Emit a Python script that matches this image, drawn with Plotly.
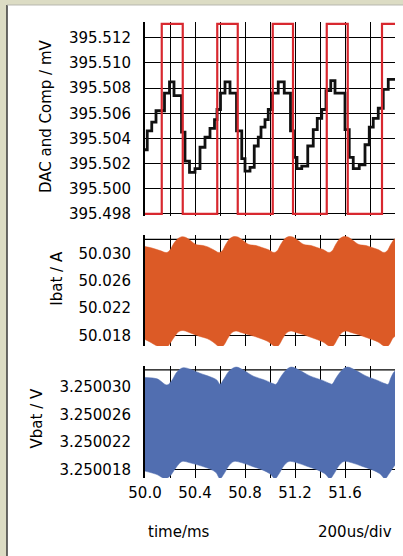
import plotly.graph_objects as go

# ---------------- data ----------------
# Top panel: DAC (red square wave) and Comp (black staircase), mV
dac_t = [50.000, 50.134, 50.302, 50.578, 50.742, 51.022, 51.184, 51.454, 51.622, 51.896, 52.000]
dac_v = [395.498, 395.5131, 395.498, 395.5131, 395.498, 395.5131, 395.498, 395.5131, 395.498, 395.5131, 395.5131]

comp_t = [50.000, 50.018, 50.054, 50.088, 50.156, 50.196, 50.232, 50.292, 50.320, 50.356,
          50.400, 50.440, 50.480, 50.520, 50.556, 50.576, 50.604, 50.640, 50.680, 50.732,
          50.774, 50.800, 50.840, 50.874, 50.906, 50.928, 50.960, 50.986, 51.018, 51.066,
          51.114, 51.164, 51.188, 51.216, 51.254, 51.302, 51.346, 51.378, 51.414, 51.448,
          51.486, 51.520, 51.600, 51.634, 51.666, 51.714, 51.760, 51.794, 51.826, 51.866,
          51.906, 51.946, 52.000]
comp_v = [395.5031, 395.5046, 395.5053, 395.5062, 395.5076, 395.5085, 395.5074, 395.5045, 395.5022, 395.5013,
          395.5016, 395.5033, 395.5041, 395.5048, 395.5055, 395.5063, 395.5076, 395.5085, 395.5076, 395.5046,
          395.5024, 395.5014, 395.5017, 395.5034, 395.5041, 395.5049, 395.5055, 395.5063, 395.5076, 395.5085,
          395.5076, 395.5046, 395.5025, 395.5016, 395.5018, 395.5034, 395.5047, 395.5056, 395.5063, 395.5078,
          395.5086, 395.5076, 395.5047, 395.5025, 395.5016, 395.5019, 395.5035, 395.5049, 395.5056, 395.5064,
          395.5079, 395.5087, 395.5087]

# Middle panel: Ibat ripple band envelope, A
ibat_up_t = [50.000, 50.056, 50.120, 50.172, 50.200, 50.232, 50.264, 50.296, 50.328, 50.368,
             50.408, 50.464, 50.504, 50.544, 50.592, 50.616, 50.648, 50.680, 50.712, 50.744,
             50.784, 50.832, 50.888, 50.936, 50.984, 51.032, 51.056, 51.088, 51.120, 51.152,
             51.184, 51.224, 51.272, 51.328, 51.376, 51.424, 51.472, 51.496, 51.528, 51.560,
             51.592, 51.624, 51.664, 51.712, 51.768, 51.816, 51.864, 51.912, 51.936, 51.968, 52.000]
ibat_up_v = [50.03104, 50.03082, 50.03045, 50.03016, 50.03053, 50.03155, 50.03221, 50.03248, 50.03236, 50.03185,
             50.03133, 50.03119, 50.03097, 50.03060, 50.03016, 50.03038, 50.03141, 50.03221, 50.03251, 50.03243,
             50.03192, 50.03133, 50.03119, 50.03089, 50.03060, 50.03016, 50.03038, 50.03141, 50.03221, 50.03251,
             50.03243, 50.03192, 50.03133, 50.03119, 50.03089, 50.03060, 50.03016, 50.03038, 50.03141, 50.03221,
             50.03251, 50.03243, 50.03192, 50.03133, 50.03119, 50.03089, 50.03060, 50.03016, 50.03038, 50.03141, 50.03214]
ibat_lo_t = [50.000, 50.040, 50.088, 50.136, 50.176, 50.208, 50.240, 50.272, 50.304, 50.344,
             50.384, 50.440, 50.496, 50.544, 50.584, 50.608, 50.632, 50.664, 50.696, 50.728,
             50.768, 50.824, 50.880, 50.936, 50.984, 51.024, 51.048, 51.072, 51.104, 51.136,
             51.168, 51.208, 51.264, 51.320, 51.376, 51.424, 51.464, 51.488, 51.512, 51.544,
             51.576, 51.608, 51.648, 51.704, 51.760, 51.816, 51.864, 51.904, 51.928, 51.952, 51.984, 52.000]
ibat_lo_v = [50.01741, 50.01705, 50.01653, 50.01624, 50.01632, 50.01705, 50.01793, 50.01859, 50.01873, 50.01851,
             50.01822, 50.01785, 50.01756, 50.01705, 50.01646, 50.01624, 50.01661, 50.01763, 50.01844, 50.01866,
             50.01844, 50.01815, 50.01785, 50.01749, 50.01712, 50.01653, 50.01624, 50.01661, 50.01763, 50.01844,
             50.01866, 50.01844, 50.01815, 50.01778, 50.01741, 50.01705, 50.01653, 50.01624, 50.01661, 50.01763,
             50.01844, 50.01866, 50.01844, 50.01815, 50.01778, 50.01741, 50.01705, 50.01653, 50.01624, 50.01661,
             50.01763, 50.01793]

# Bottom panel: Vbat ripple band envelope, V
vbat_up_t = [50.000, 50.096, 50.176, 50.216, 50.256, 50.304, 50.360, 50.440, 50.520, 50.576,
             50.600, 50.632, 50.672, 50.728, 50.792, 50.864, 50.960, 51.024, 51.048, 51.080,
             51.120, 51.168, 51.240, 51.320, 51.416, 51.480, 51.496, 51.528, 51.568, 51.616,
             51.688, 51.768, 51.856, 51.920, 51.944, 51.968, 52.000]
vbat_up_v = [3.2500314, 3.2500312, 3.2500303, 3.2500310, 3.2500322, 3.2500328, 3.2500326, 3.2500320, 3.2500315, 3.2500310,
             3.2500304, 3.2500312, 3.2500323, 3.2500329, 3.2500324, 3.2500316, 3.2500310, 3.2500305, 3.2500304, 3.2500313,
             3.2500323, 3.2500329, 3.2500324, 3.2500316, 3.2500310, 3.2500305, 3.2500304, 3.2500313, 3.2500323, 3.2500329,
             3.2500324, 3.2500316, 3.2500310, 3.2500305, 3.2500304, 3.2500314, 3.2500323]
vbat_lo_t = [50.000, 50.096, 50.160, 50.200, 50.248, 50.296, 50.360, 50.440, 50.520, 50.568,
             50.600, 50.632, 50.672, 50.712, 50.776, 50.856, 50.936, 51.000, 51.040, 51.072,
             51.112, 51.152, 51.216, 51.296, 51.376, 51.440, 51.480, 51.512, 51.552, 51.592,
             51.656, 51.736, 51.816, 51.880, 51.920, 51.952, 51.984, 52.000]
vbat_lo_v = [3.2500178, 3.2500173, 3.2500167, 3.2500171, 3.2500183, 3.2500192, 3.2500190, 3.2500186, 3.2500181, 3.2500176,
             3.2500167, 3.2500174, 3.2500186, 3.2500192, 3.2500190, 3.2500185, 3.2500180, 3.2500174, 3.2500167, 3.2500174,
             3.2500186, 3.2500192, 3.2500190, 3.2500185, 3.2500180, 3.2500174, 3.2500167, 3.2500174, 3.2500186, 3.2500192,
             3.2500190, 3.2500185, 3.2500180, 3.2500174, 3.2500167, 3.2500174, 3.2500183, 3.2500187]

# Ticks
x_ticks = [50.0, 50.2, 50.4, 50.6, 50.8, 51.0, 51.2, 51.4, 51.6, 51.8]
x_labels = ["50.0", "", "50.4", "", "50.8", "", "51.2", "", "51.6", ""]
y1_ticks = [395.498, 395.500, 395.502, 395.504, 395.506, 395.508, 395.510, 395.512]
y1_labels = ["395.498", "395.500", "395.502", "395.504", "395.506", "395.508", "395.510", "395.512"]
y2_ticks = [50.018, 50.022, 50.026, 50.030]
y2_labels = ["50.018", "50.022", "50.026", "50.030"]
y3_ticks = [3.250018, 3.250022, 3.250026, 3.250030]
y3_labels = ["3.250018", "3.250022", "3.250026", "3.250030"]

# ---------------- styling ----------------
FONT = "DejaVu Sans, Verdana, sans-serif"
FS = 15
BLACK = "#000000"
RED = "#d8282f"
ORANGE = "#dc5a26"
BLUE = "#516eb0"
BEIGE = "#dcdcc4"

fig = go.Figure()

fig.add_trace(go.Scatter(x=comp_t, y=comp_v, mode="lines", line=dict(color="#111111", width=2.8, shape="hv"),
                         xaxis="x", yaxis="y", showlegend=False, hoverinfo="skip"))
fig.add_trace(go.Scatter(x=dac_t, y=dac_v, mode="lines", line=dict(color=RED, width=2.2, shape="hv"),
                         xaxis="x", yaxis="y", showlegend=False, hoverinfo="skip"))

fig.add_trace(go.Scatter(x=ibat_up_t + ibat_lo_t[::-1], y=ibat_up_v + ibat_lo_v[::-1], mode="lines",
                         fill="toself", fillcolor=ORANGE, line=dict(color=ORANGE, width=0.5, shape="spline"),
                         xaxis="x2", yaxis="y2", showlegend=False, hoverinfo="skip"))
fig.add_trace(go.Scatter(x=vbat_up_t + vbat_lo_t[::-1], y=vbat_up_v + vbat_lo_v[::-1], mode="lines",
                         fill="toself", fillcolor=BLUE, line=dict(color=BLUE, width=0.5, shape="spline"),
                         xaxis="x3", yaxis="y3", showlegend=False, hoverinfo="skip"))

xcommon = dict(range=[50.0, 52.0], tickmode="array", tickvals=x_ticks, ticktext=x_labels,
               showgrid=True, gridcolor=BLACK, gridwidth=1.3, zeroline=False, showline=False,
               ticks="", tickfont=dict(family=FONT, size=FS, color=BLACK))
ycommon = dict(tickmode="array", showgrid=True, gridcolor=BLACK, gridwidth=1.3, zeroline=False,
               showline=True, linecolor=BLACK, linewidth=2, ticks="", ticklabelstandoff=9,
               tickfont=dict(family=FONT, size=FS, color=BLACK))

fig.update_layout(
    width=403, height=556,
    margin=dict(l=145, r=8, t=22, b=78, autoexpand=False),
    paper_bgcolor=BEIGE, plot_bgcolor="white",
    font=dict(family=FONT, size=FS, color=BLACK),
    xaxis=dict(xcommon, anchor="y", showticklabels=False),
    xaxis2=dict(xcommon, anchor="y2", matches="x", showticklabels=False),
    xaxis3=dict(xcommon, anchor="y3", matches="x", showticklabels=True, ticklabelstandoff=4),
    yaxis=dict(ycommon, domain=[0.5735, 1.0], range=[395.4978, 395.51325], tickvals=y1_ticks, ticktext=y1_labels, anchor="x"),
    yaxis2=dict(ycommon, domain=[0.2895, 0.5329], range=[50.01646, 50.03273], tickvals=y2_ticks, ticktext=y2_labels, anchor="x2"),
    yaxis3=dict(ycommon, domain=[0.0, 0.2463], range=[3.2500168, 3.2500331], tickvals=y3_ticks, ticktext=y3_labels, anchor="x3"),
)

shapes = [
    # white inner panel on the beige window background
    dict(type="rect", xref="paper", yref="paper", x0=-0.552, x1=1.05, y0=-0.2, y1=1.0373,
         fillcolor="white", line=dict(width=0), layer="below"),
    dict(type="line", xref="paper", yref="paper", x0=-0.552, x1=-0.552, y0=-0.2, y1=1.0373,
         line=dict(color="#3a3a3a", width=1.5)),
    dict(type="line", xref="paper", yref="paper", x0=-0.552, x1=1.05, y0=1.0373, y1=1.0373,
         line=dict(color="#b8b8b0", width=1)),
    # top frame lines of the lower two panels
    dict(type="line", xref="x2 domain", yref="y2", x0=0, x1=1, y0=50.0321, y1=50.0321,
         line=dict(color=BLACK, width=1.3), layer="below"),
    dict(type="line", xref="x3 domain", yref="y3", x0=0, x1=1, y0=3.2500325, y1=3.2500325,
         line=dict(color=BLACK, width=1.3), layer="below"),
]
fig.update_layout(shapes=shapes)

ann_font = dict(family=FONT, size=FS, color=BLACK)
fig.update_layout(annotations=[
    dict(text="DAC and Comp / mV", xref="paper", yref="paper", x=-0.3932, y=0.7932, textangle=-90,
         showarrow=False, xanchor="center", yanchor="middle", font=ann_font),
    dict(text="Ibat / A", xref="paper", yref="paper", x=-0.3532, y=0.4386, textangle=-90,
         showarrow=False, xanchor="center", yanchor="middle", font=ann_font),
    dict(text="Vbat / V", xref="paper", yref="paper", x=-0.4332, y=0.1300, textangle=-90,
         showarrow=False, xanchor="center", yanchor="middle", font=ann_font),
    dict(text="time/ms", xref="paper", yref="paper", x=0.005, y=-0.1178,
         showarrow=False, xanchor="left", yanchor="middle", font=ann_font),
    dict(text="200us/div", xref="paper", yref="paper", x=0.994, y=-0.1178,
         showarrow=False, xanchor="right", yanchor="middle", font=ann_font),
])

fig.write_html("out.html", config={"displayModeBar": False},
               post_script="document.body.style.margin='0';")
